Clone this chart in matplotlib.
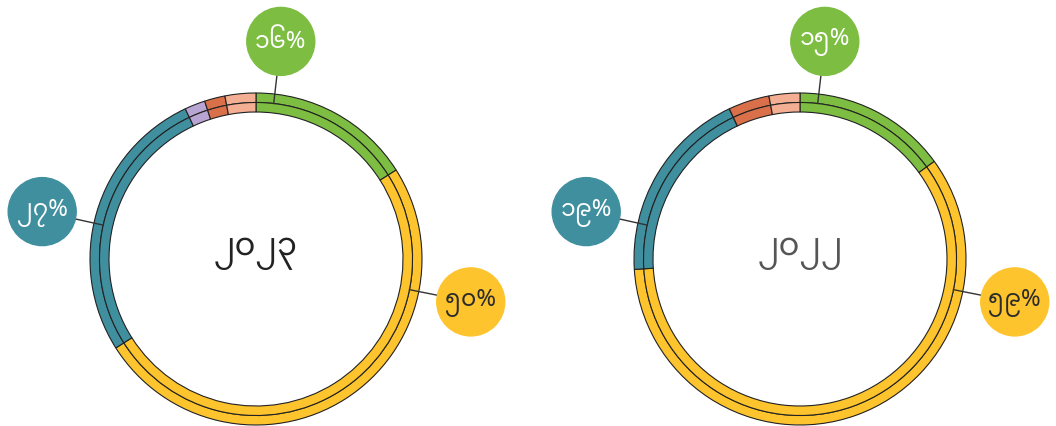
import numpy as np
import matplotlib
matplotlib.use("Agg")
import matplotlib.pyplot as plt
from matplotlib.patches import Circle

# data (percent shares per year)
years = [2023, 2022]
categories = ["Green", "Yellow", "Teal", "Purple", "Orange", "Salmon"]
shares_first = [16, 50, 27, 2, 2, 3]
shares_second = [15, 59, 19, 0, 4, 3]
colors = ["#7dbe42", "#fec42d", "#408f9f", "#b9a5d3", "#d9704a", "#f4ae94"]
labelled = ["Green", "Teal", "Yellow"]

# Myanmar digits
my_digits = str.maketrans("0123456789", "".join(chr(0x1040 + i) for i in range(10)))
families = ["Noto Sans Myanmar", "Noto Sans", "DejaVu Sans"]

fig = plt.figure(figsize=(10.56, 4.27), dpi=100)
ax = fig.add_axes([0, 0, 1, 1])

H = 427
R_out, R_mid, R_in = 166, 156.5, 147
label_angle = {"Green": 83.5, "Teal": 167.5, "Yellow": -11.3}
label_dist = 219
label_r = 34
text_col = {"Green": "white", "Teal": "white", "Yellow": "#2b2b2b"}
centers = [(256, H - 260), (800, H - 260)]
center_colors = ["#222222", "#555555"]

for (cx, cy), year, shares, ccol in zip(centers, years, [shares_first, shares_second], center_colors):
    wp = dict(edgecolor="#222222", linewidth=0.8)
    ax.pie(shares, colors=colors, radius=R_out, center=(cx, cy), startangle=90,
           counterclock=False, wedgeprops=dict(width=R_out - R_mid, **wp))
    ax.pie(shares, colors=colors, radius=R_mid, center=(cx, cy), startangle=90,
           counterclock=False, wedgeprops=dict(width=R_mid - R_in, **wp))

    ax.text(cx, cy + 6, str(year).translate(my_digits), ha="center", va="center",
            fontsize=23, color=ccol, family=families)

    for name in labelled:
        i = categories.index(name)
        a = np.deg2rad(label_angle[name])
        lx, ly = cx + label_dist * np.cos(a), cy + label_dist * np.sin(a)
        ax.plot([cx + R_mid * np.cos(a), cx + (label_dist - label_r) * np.cos(a)],
                [cy + R_mid * np.sin(a), cy + (label_dist - label_r) * np.sin(a)],
                color="#333333", lw=1, zorder=3)
        ax.add_patch(Circle((lx, ly), label_r, color=colors[i], zorder=4))
        ax.text(lx, ly, (str(shares[i]) + "%").translate(my_digits), ha="center", va="center",
                fontsize=17, color=text_col[name], family=families, zorder=5)

ax.set_xlim(0, 1056)
ax.set_ylim(0, H)
ax.set_aspect("equal")
ax.axis("off")

fig.savefig("out.png", dpi=100)
